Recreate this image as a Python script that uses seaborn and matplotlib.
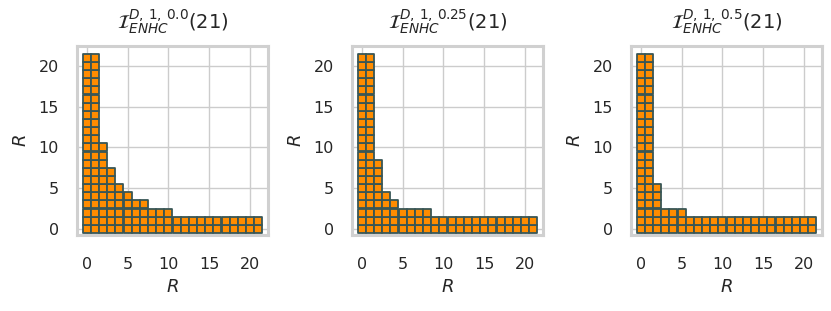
import numpy as np
import pandas as pd
import seaborn as sns
import matplotlib.pyplot as plt

# column heights (number of stacked cells) for R = 0..21
R_VALUES = list(range(22))
heights_00 = [22, 22, 11, 8, 6, 5, 4, 4, 3, 3, 3] + [2] * 11
heights_025 = [22, 22, 9, 5, 4, 3, 3, 3, 3] + [2] * 13
heights_05 = [22, 22, 6, 3, 3, 3] + [2] * 16
titles = [r'$\mathcal{I}^{D,\,1,\,0.0}_{ENHC}(21)$',
          r'$\mathcal{I}^{D,\,1,\,0.25}_{ENHC}(21)$',
          r'$\mathcal{I}^{D,\,1,\,0.5}_{ENHC}(21)$']


def cells_df(heights):
    """
    Expand column heights into one row per cell
    """
    xs, ys = [], []
    for x, h in zip(R_VALUES, heights):
        for y in range(h):
            xs.append(x)
            ys.append(y)
    return pd.DataFrame({'x': xs, 'y': ys})


sns.set_theme(style='whitegrid')
plt.rcParams['mathtext.fontset'] = 'dejavusans'

W, H = 831, 311
lefts = [77, 352, 631]
fig, axs = plt.subplots(1, 3, figsize=(8.31, 3.11), dpi=100)
for ax, left, heights, title in zip(axs, lefts, [heights_00, heights_025, heights_05], titles):
    ax.set_position([left / W, 1 - 235 / H, 191 / W, 189 / H])
    df = cells_df(heights)
    sns.scatterplot(data=df, x='x', y='y', marker='s', s=31, color='#ff8c00',
                    edgecolor='#385656', linewidth=1.3, ax=ax, zorder=3)
    ax.set_xlim(-1.2, 22.2)
    ax.set_ylim(-0.75, 22.45)
    ax.set_xticks([0, 5, 10, 15, 20])
    ax.set_yticks([0, 5, 10, 15, 20])
    ax.set_xlabel('$R$', fontsize=13, labelpad=4)
    ax.set_ylabel('$R$', fontsize=13, labelpad=6)
    ax.set_title(title, fontsize=14, pad=13)
    ax.tick_params(labelsize=11.5)
    ax.tick_params(axis='x', pad=10)
    ax.tick_params(axis='y', pad=7)
    for sp in ax.spines.values():
        sp.set_linewidth(2.2)
        sp.set_color('#d0d0d0')

plt.savefig('out.png')
